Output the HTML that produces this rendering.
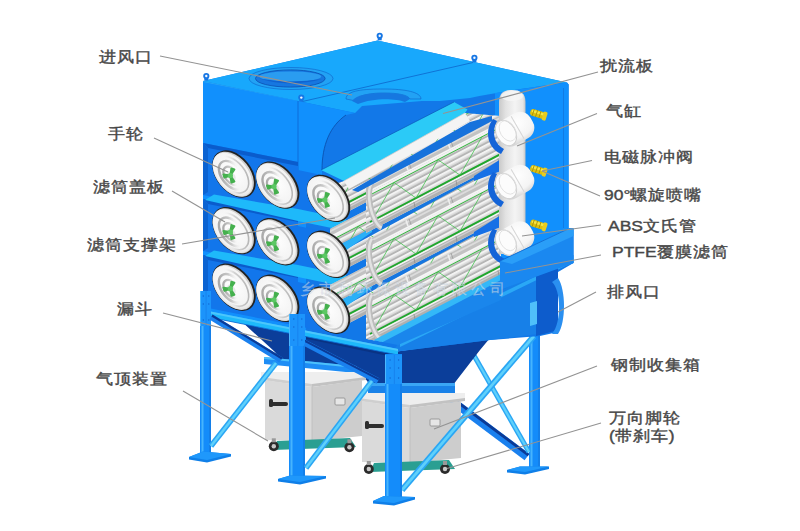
<!DOCTYPE html>
<html><head><meta charset="utf-8">
<style>
html,body{margin:0;padding:0;background:#fff;width:800px;height:531px;overflow:hidden}
#c{position:absolute;left:0;top:0;width:800px;height:531px}
.t{position:absolute;font-family:"Liberation Sans",sans-serif;font-size:17.5px;font-weight:400;color:#474747;-webkit-text-stroke:0.45px #474747;transform:scaleY(0.88);transform-origin:0 50%;white-space:nowrap;line-height:1}
</style></head><body>
<svg id="c" width="800" height="531" viewBox="0 0 800 531">
<polygon points="529.0,300.0 540.0,300.0 540.0,468.0 529.0,468.0" fill="#148cfa" />
<line x1="531.5" y1="302.0" x2="531.5" y2="467.0" stroke="#46b4fd" stroke-width="2" />
<line x1="539.0" y1="302.0" x2="539.0" y2="467.0" stroke="#1272d8" stroke-width="1" />
<polygon points="507.0,470.0 520.0,466.5 549.0,466.5 549.0,469.0 525.0,474.5 507.0,472.5" fill="#0f7fe8" />
<polygon points="507.0,470.0 520.0,466.5 549.0,466.5 525.0,472.0" fill="#1f98fb" />
<polygon points="401.6,368.2 524.6,460.2 529.4,453.8 406.4,361.8" fill="#1a80ee" />
<polygon points="404.6,364.2 527.6,456.2 529.3,454.0 406.3,362.0" fill="#0b3a96" />
<polygon points="469.8,353.2 526.8,453.2 531.2,450.8 474.2,350.8" fill="#2aa6f4" />
<polygon points="471.0,352.6 528.0,452.6 530.0,451.4 473.0,351.4" fill="#5fd0fb" />
<polygon points="240.0,320.0 298.0,332.0 393.0,352.0 490.0,338.0 480.0,350.0 453.0,385.0 370.0,385.0 356.0,366.0 282.0,362.0 275.0,352.0" fill="#0b3e9a" />
<polygon points="298.0,332.0 393.0,352.0 393.0,357.0 298.0,337.0" fill="#0a3384" />
<polygon points="264.0,357.0 356.0,366.0 356.0,373.0 264.0,364.0" fill="#1e8df5" />
<polygon points="264.0,357.0 356.0,366.0 356.0,368.0 264.0,359.0" fill="#4cc0fb" />
<polygon points="368.0,383.0 455.0,383.0 455.0,393.0 368.0,393.0" fill="#1a82e8" />
<polygon points="368.0,383.0 455.0,383.0 455.0,386.0 368.0,386.0" fill="#3aa6f5" />
<polygon points="358.0,393.0 465.0,393.0 465.0,400.0 410.0,407.0 358.0,400.0" fill="#eeeeee" />
<polygon points="358.0,398.0 410.0,405.0 410.0,408.0 358.0,401.0" fill="#cfcfcf" />
<polygon points="410.0,405.0 465.0,398.0 465.0,401.0 410.0,408.0" fill="#c2c2c2" />
<polygon points="362.0,401.0 410.0,408.0 410.0,463.0 362.0,462.0" fill="#dadada" />
<polygon points="410.0,408.0 461.0,401.0 461.0,458.0 410.0,463.0" fill="#cdcdcd" />
<line x1="410.0" y1="408.0" x2="410.0" y2="463.0" stroke="#bcbcbc" stroke-width="0.8" />
<rect x="366" y="424" width="18" height="4" rx="2" fill="#2e2e2e"/>
<rect x="365" y="421" width="4" height="8" rx="1.5" fill="#2e2e2e"/>
<rect x="430" y="419" width="10" height="7" rx="1" fill="#e6e6e6" stroke="#8a8a8a" stroke-width="0.8"/>
<polygon points="374.0,463.0 449.0,460.0 455.0,469.0 370.0,472.0" fill="#2a9f92" />
<circle cx="368.8" cy="469" r="5" fill="#2b2b2b"/><circle cx="368.8" cy="469" r="2.2" fill="#c8c8c8"/>
<rect x="366.8" y="461" width="4" height="4" fill="#9a9a9a"/>
<circle cx="445" cy="469" r="5" fill="#2b2b2b"/><circle cx="445" cy="469" r="2.2" fill="#c8c8c8"/>
<rect x="443" y="461" width="4" height="4" fill="#9a9a9a"/>
<polygon points="531.7,334.0 399.7,488.0 404.3,492.0 536.3,338.0" fill="#2aa6f4" />
<polygon points="533.0,335.1 401.0,489.1 403.0,490.9 535.0,336.9" fill="#5fd0fb" />
<polygon points="261.0,372.0 366.0,372.0 366.0,379.0 312.0,386.0 261.0,379.0" fill="#eeeeee" />
<polygon points="261.0,377.0 312.0,384.0 312.0,387.0 261.0,380.0" fill="#cfcfcf" />
<polygon points="312.0,384.0 366.0,377.0 366.0,380.0 312.0,387.0" fill="#c2c2c2" />
<polygon points="265.0,380.0 312.0,387.0 312.0,441.0 265.0,440.0" fill="#dadada" />
<polygon points="312.0,387.0 362.0,380.0 362.0,436.0 312.0,441.0" fill="#cdcdcd" />
<line x1="312.0" y1="387.0" x2="312.0" y2="441.0" stroke="#bcbcbc" stroke-width="0.8" />
<rect x="270" y="402" width="18" height="4" rx="2" fill="#2e2e2e"/>
<rect x="269" y="399" width="4" height="8" rx="1.5" fill="#2e2e2e"/>
<rect x="335" y="398" width="10" height="7" rx="1" fill="#e6e6e6" stroke="#8a8a8a" stroke-width="0.8"/>
<polygon points="277.0,441.0 350.0,438.0 356.0,447.0 273.0,450.0" fill="#2a9f92" />
<circle cx="273.8" cy="446.3" r="5" fill="#2b2b2b"/><circle cx="273.8" cy="446.3" r="2.2" fill="#c8c8c8"/>
<rect x="271.8" y="438.3" width="4" height="4" fill="#9a9a9a"/>
<circle cx="349.4" cy="447.3" r="5" fill="#2b2b2b"/><circle cx="349.4" cy="447.3" r="2.2" fill="#c8c8c8"/>
<rect x="347.4" y="439.3" width="4" height="4" fill="#9a9a9a"/>
<polygon points="203.0,81.0 377.5,40.5 567.0,82.6 568.6,84.5 568.6,228.0 573.5,228.0 573.5,263.0 558.0,272.0 558.0,332.0 540.0,336.0 490.0,340.0 393.0,352.0 298.0,332.0 203.0,313.0" fill="#1278e8" />
<polygon points="393.0,352.0 400.0,340.0 573.5,255.0 573.5,263.0 538.0,276.0 538.0,334.0 490.0,340.0" fill="#1780e8" />
<polygon points="400.0,343.0 573.5,258.0 573.5,262.0 400.0,347.0" fill="#2aa8f6" />
<polygon points="536.0,276.0 558.0,268.0 558.0,330.0 536.0,336.0" fill="#0d5ccc" />
<path d="M552,282 C561,290 562,322 552,334 L558,334 C566,322 566,290 558,278 Z" fill="#2a8ff0"/>
<polygon points="530.0,303.0 537.0,301.0 537.0,324.0 530.0,326.0" fill="#4fc0fa" />
<path d="M203,81 L377.5,40.5 L567,82.6 C540,86 500,92 470,98 L440,101 L422,101 L362,106 L355,113 L298,101 Z" fill="#18a8fc"/>
<polygon points="203.0,81.0 298.0,101.0 298.0,103.0 203.0,83.0" fill="#28a8f6" />
<line x1="298.0" y1="102.5" x2="473.0" y2="62.5" stroke="#0b5cc4" stroke-width="0.7" />
<ellipse cx="291" cy="78.5" rx="42" ry="11" fill="#22a2f4" stroke="#0d62c8" stroke-width="0.6"/>
<ellipse cx="290.3" cy="78.5" rx="34.8" ry="8.6" fill="#1677e0" stroke="#0a4fb0" stroke-width="0.8"/>
<ellipse cx="290.3" cy="76.6" rx="31" ry="5.2" fill="#2a9cf0"/>
<path d="M259,78.5 Q290,84 322,79 Q290,88 259,78.5 Z" fill="#0f62d0"/>
<path d="M346,99 C346,90 365,89 384,89 C405,89 421,92 421,99 L410,99 C408,95 398,93 384,93 C368,93 357,96 356,101 Z" fill="#22a2f4" stroke="#0d62c8" stroke-width="0.6"/>
<path d="M352,101 C356,95 368,93 384,93 C398,93 408,95 410,99 L405,102 C395,98 372,98 358,104 Z" fill="#1677e0"/>
<rect x="204.3" y="76" width="4" height="4.5" fill="#1676e4"/>
<circle cx="206.3" cy="76" r="3.1" fill="#1676e4"/>
<circle cx="206.3" cy="76" r="1.2" fill="#f4f8ff"/>
<rect x="299.3" y="97.6" width="4" height="4.5" fill="#1676e4"/>
<circle cx="301.3" cy="97.6" r="3.1" fill="#1676e4"/>
<circle cx="301.3" cy="97.6" r="1.2" fill="#f4f8ff"/>
<rect x="377.7" y="35.8" width="4" height="4.5" fill="#1676e4"/>
<circle cx="379.7" cy="35.8" r="3.1" fill="#1676e4"/>
<circle cx="379.7" cy="35.8" r="1.2" fill="#f4f8ff"/>
<rect x="472.4" y="57.8" width="4" height="4.5" fill="#1676e4"/>
<circle cx="474.4" cy="57.8" r="3.1" fill="#1676e4"/>
<circle cx="474.4" cy="57.8" r="1.2" fill="#f4f8ff"/>
<polygon points="495.0,93.0 567.0,82.6 568.6,84.5 568.6,229.0 500.0,261.0 495.0,263.0" fill="#1190fd" />
<line x1="563.5" y1="88.0" x2="563.5" y2="228.0" stroke="#1272d8" stroke-width="0.7" />
<polygon points="203.0,82.0 298.0,101.0 298.0,335.0 203.0,316.0" fill="#1190fd" />
<path d="M298,101 L355,113 L346,115 C330,126 322,145 322,168 L322,178 L298,178 Z" fill="#1190fd"/>
<path d="M346,115 C330,126 322,145 322,170" fill="none" stroke="#0a4ca8" stroke-width="0.8"/>
<line x1="298.0" y1="101.0" x2="298.0" y2="332.0" stroke="#0d5fc8" stroke-width="0.7" />
<polygon points="298.0,170.0 306.0,172.0 306.0,340.0 298.0,338.0" fill="#1190fd" />
<polygon points="203.0,143.0 298.0,162.0 298.0,214.0 203.0,195.0" fill="#1276eb" />
<polygon points="203.0,143.0 298.0,162.0 298.0,166.0 208.0,148.0" fill="#0a5ccc" />
<polygon points="203.0,143.0 208.0,148.0 208.0,192.0 203.0,195.0" fill="#0b63d2" />
<polygon points="203.0,199.0 298.0,218.0 298.0,270.0 203.0,251.0" fill="#1276eb" />
<polygon points="203.0,199.0 298.0,218.0 298.0,222.0 208.0,204.0" fill="#0a5ccc" />
<polygon points="203.0,199.0 208.0,204.0 208.0,248.0 203.0,251.0" fill="#0b63d2" />
<polygon points="203.0,255.0 298.0,274.0 298.0,326.0 203.0,307.0" fill="#1276eb" />
<polygon points="203.0,255.0 298.0,274.0 298.0,278.0 208.0,260.0" fill="#0a5ccc" />
<polygon points="203.0,255.0 208.0,260.0 208.0,304.0 203.0,307.0" fill="#0b63d2" />
<polygon points="298.0,170.0 345.0,180.0 345.0,224.0 298.0,214.0" fill="#1276eb" />
<polygon points="298.0,226.0 345.0,236.0 345.0,280.0 298.0,270.0" fill="#1276eb" />
<polygon points="298.0,282.0 345.0,292.0 345.0,336.0 298.0,326.0" fill="#1276eb" />
<polygon points="205.0,200.0 214.0,194.5 298.0,209.0 346.0,219.0 346.0,231.0 298.0,221.0" fill="#1eb9fa" />
<polygon points="205.0,256.0 214.0,250.5 298.0,265.0 346.0,275.0 346.0,287.0 298.0,277.0" fill="#1eb9fa" />
<polygon points="203.0,310.0 298.0,329.0 398.0,349.0 398.0,355.0 298.0,335.0 203.0,316.0" fill="#1eb9fa" />
<polygon points="203.0,310.0 298.0,329.0 398.0,349.0 398.0,351.0 298.0,331.0 203.0,312.0" fill="#4cc6fc" />
<line x1="203.0" y1="316.0" x2="398.0" y2="355.0" stroke="#0d6ad6" stroke-width="0.8" />
<clipPath id="tclip"><polygon points="300,326 300,195 344,181 465,113 501,116 501,300 398,345"/></clipPath>
<defs>
<pattern id="pleat" patternUnits="userSpaceOnUse" width="40" height="5.5" patternTransform="rotate(-27.47)">
<rect width="40" height="5.5" fill="#cfcfcf"/><rect y="0" width="40" height="2.4" fill="#f3f3f3"/><rect y="2.4" width="40" height="1.0" fill="#dedede"/><rect y="4.2" width="40" height="0.9" fill="#9c9c9c"/>
</pattern>
</defs>
<g clip-path="url(#tclip)">
<polygon points="330.0,284.9 501.0,196.0 501.0,244.0 330.0,332.9" fill="url(#pleat)" />
<polygon points="330.0,284.9 501.0,196.0 501.0,203.0 330.0,291.9" fill="#c2c2c2" />
<polygon points="330.0,286.4 501.0,197.5 501.0,199.5 330.0,288.4" fill="#dcdcdc" />
<polygon points="330.0,291.9 501.0,203.0 501.0,205.0 330.0,293.9" fill="#f6f6f6" />
<polygon points="330.0,326.9 501.0,238.0 501.0,244.0 330.0,332.9" fill="#b0b0b0" />
<polygon points="330.0,327.9 501.0,239.0 501.0,240.5 330.0,329.4" fill="#cfcfcf" />
<line x1="370.0" y1="264.1" x2="372.0" y2="270.1" stroke="#eeeeee" stroke-width="1.6" />
<line x1="373.0" y1="262.6" x2="375.0" y2="268.5" stroke="#9a9a9a" stroke-width="0.8" />
<line x1="378.0" y1="302.0" x2="379.0" y2="307.5" stroke="#8e8e8e" stroke-width="0.8" />
<line x1="412.0" y1="242.3" x2="414.0" y2="248.3" stroke="#eeeeee" stroke-width="1.6" />
<line x1="415.0" y1="240.7" x2="417.0" y2="246.7" stroke="#9a9a9a" stroke-width="0.8" />
<line x1="420.0" y1="280.1" x2="421.0" y2="285.6" stroke="#8e8e8e" stroke-width="0.8" />
<line x1="454.0" y1="220.5" x2="456.0" y2="226.4" stroke="#eeeeee" stroke-width="1.6" />
<line x1="457.0" y1="218.9" x2="459.0" y2="224.9" stroke="#9a9a9a" stroke-width="0.8" />
<line x1="462.0" y1="258.3" x2="463.0" y2="263.8" stroke="#8e8e8e" stroke-width="0.8" />
<line x1="334.0" y1="321.9" x2="501.0" y2="235.0" stroke="#1fa82c" stroke-width="1.8" />
<line x1="334.0" y1="294.9" x2="501.0" y2="208.0" stroke="#35bb40" stroke-width="1.0" />
<polyline points="336.0,320.8 358.0,282.4 380.0,297.9 402.0,259.5 424.0,275.1 446.0,236.6 468.0,252.2 490.0,213.7" fill="none" stroke="#3cc048" stroke-width="0.9" opacity="0.85"/>
<polygon points="366.0,297.1 501.0,226.9 501.0,274.9 366.0,345.1" fill="url(#pleat)" />
<polygon points="366.0,297.1 501.0,226.9 501.0,233.9 366.0,304.1" fill="#c2c2c2" />
<polygon points="366.0,298.6 501.0,228.4 501.0,230.4 366.0,300.6" fill="#dcdcdc" />
<polygon points="366.0,304.1 501.0,233.9 501.0,235.9 366.0,306.1" fill="#f6f6f6" />
<polygon points="366.0,339.1 501.0,268.9 501.0,274.9 366.0,345.1" fill="#b0b0b0" />
<polygon points="366.0,340.1 501.0,269.9 501.0,271.4 366.0,341.6" fill="#cfcfcf" />
<line x1="406.0" y1="276.3" x2="408.0" y2="282.3" stroke="#eeeeee" stroke-width="1.6" />
<line x1="409.0" y1="274.7" x2="411.0" y2="280.7" stroke="#9a9a9a" stroke-width="0.8" />
<line x1="414.0" y1="314.1" x2="415.0" y2="319.6" stroke="#8e8e8e" stroke-width="0.8" />
<line x1="448.0" y1="254.5" x2="450.0" y2="260.4" stroke="#eeeeee" stroke-width="1.6" />
<line x1="451.0" y1="252.9" x2="453.0" y2="258.9" stroke="#9a9a9a" stroke-width="0.8" />
<line x1="456.0" y1="292.3" x2="457.0" y2="297.8" stroke="#8e8e8e" stroke-width="0.8" />
<line x1="490.0" y1="232.6" x2="492.0" y2="238.6" stroke="#eeeeee" stroke-width="1.6" />
<line x1="493.0" y1="231.1" x2="495.0" y2="237.0" stroke="#9a9a9a" stroke-width="0.8" />
<line x1="498.0" y1="270.5" x2="499.0" y2="275.9" stroke="#8e8e8e" stroke-width="0.8" />
<line x1="370.0" y1="334.0" x2="501.0" y2="265.9" stroke="#1fa82c" stroke-width="1.8" />
<line x1="370.0" y1="307.0" x2="501.0" y2="238.9" stroke="#35bb40" stroke-width="1.0" />
<polyline points="372.0,333.0 394.0,294.5 416.0,310.1 438.0,271.7 460.0,287.2 482.0,248.8" fill="none" stroke="#3cc048" stroke-width="0.9" opacity="0.85"/>
<g transform="rotate(-12 371 318.5)"><path d="M377,295.5 A9.5,24 0 0 0 377,341.5" fill="none" stroke="#bdbdbd" stroke-width="6"/><path d="M377,295.5 A9.5,24 0 0 0 377,341.5" fill="none" stroke="#e2e2e2" stroke-width="2.5"/></g>
<polygon points="335.0,303.2 501.0,216.9 501.0,220.9 335.0,311.2" fill="#1676e0" />
<polygon points="335.0,303.2 372.0,284.0 372.0,288.0 335.0,314.2" fill="#2ab0f7" />
<polygon points="330.0,228.9 501.0,140.0 501.0,188.0 330.0,276.9" fill="url(#pleat)" />
<polygon points="330.0,228.9 501.0,140.0 501.0,147.0 330.0,235.9" fill="#c2c2c2" />
<polygon points="330.0,230.4 501.0,141.5 501.0,143.5 330.0,232.4" fill="#dcdcdc" />
<polygon points="330.0,235.9 501.0,147.0 501.0,149.0 330.0,237.9" fill="#f6f6f6" />
<polygon points="330.0,270.9 501.0,182.0 501.0,188.0 330.0,276.9" fill="#b0b0b0" />
<polygon points="330.0,271.9 501.0,183.0 501.0,184.5 330.0,273.4" fill="#cfcfcf" />
<line x1="370.0" y1="208.1" x2="372.0" y2="214.1" stroke="#eeeeee" stroke-width="1.6" />
<line x1="373.0" y1="206.6" x2="375.0" y2="212.5" stroke="#9a9a9a" stroke-width="0.8" />
<line x1="378.0" y1="246.0" x2="379.0" y2="251.5" stroke="#8e8e8e" stroke-width="0.8" />
<line x1="412.0" y1="186.3" x2="414.0" y2="192.3" stroke="#eeeeee" stroke-width="1.6" />
<line x1="415.0" y1="184.7" x2="417.0" y2="190.7" stroke="#9a9a9a" stroke-width="0.8" />
<line x1="420.0" y1="224.1" x2="421.0" y2="229.6" stroke="#8e8e8e" stroke-width="0.8" />
<line x1="454.0" y1="164.5" x2="456.0" y2="170.4" stroke="#eeeeee" stroke-width="1.6" />
<line x1="457.0" y1="162.9" x2="459.0" y2="168.9" stroke="#9a9a9a" stroke-width="0.8" />
<line x1="462.0" y1="202.3" x2="463.0" y2="207.8" stroke="#8e8e8e" stroke-width="0.8" />
<line x1="334.0" y1="265.9" x2="501.0" y2="179.0" stroke="#1fa82c" stroke-width="1.8" />
<line x1="334.0" y1="238.9" x2="501.0" y2="152.0" stroke="#35bb40" stroke-width="1.0" />
<polyline points="336.0,264.8 358.0,226.4 380.0,241.9 402.0,203.5 424.0,219.1 446.0,180.6 468.0,196.2 490.0,157.7" fill="none" stroke="#3cc048" stroke-width="0.9" opacity="0.85"/>
<polygon points="366.0,241.1 501.0,170.9 501.0,218.9 366.0,289.1" fill="url(#pleat)" />
<polygon points="366.0,241.1 501.0,170.9 501.0,177.9 366.0,248.1" fill="#c2c2c2" />
<polygon points="366.0,242.6 501.0,172.4 501.0,174.4 366.0,244.6" fill="#dcdcdc" />
<polygon points="366.0,248.1 501.0,177.9 501.0,179.9 366.0,250.1" fill="#f6f6f6" />
<polygon points="366.0,283.1 501.0,212.9 501.0,218.9 366.0,289.1" fill="#b0b0b0" />
<polygon points="366.0,284.1 501.0,213.9 501.0,215.4 366.0,285.6" fill="#cfcfcf" />
<line x1="406.0" y1="220.3" x2="408.0" y2="226.3" stroke="#eeeeee" stroke-width="1.6" />
<line x1="409.0" y1="218.7" x2="411.0" y2="224.7" stroke="#9a9a9a" stroke-width="0.8" />
<line x1="414.0" y1="258.1" x2="415.0" y2="263.6" stroke="#8e8e8e" stroke-width="0.8" />
<line x1="448.0" y1="198.5" x2="450.0" y2="204.4" stroke="#eeeeee" stroke-width="1.6" />
<line x1="451.0" y1="196.9" x2="453.0" y2="202.9" stroke="#9a9a9a" stroke-width="0.8" />
<line x1="456.0" y1="236.3" x2="457.0" y2="241.8" stroke="#8e8e8e" stroke-width="0.8" />
<line x1="490.0" y1="176.6" x2="492.0" y2="182.6" stroke="#eeeeee" stroke-width="1.6" />
<line x1="493.0" y1="175.1" x2="495.0" y2="181.0" stroke="#9a9a9a" stroke-width="0.8" />
<line x1="498.0" y1="214.5" x2="499.0" y2="219.9" stroke="#8e8e8e" stroke-width="0.8" />
<line x1="370.0" y1="278.0" x2="501.0" y2="209.9" stroke="#1fa82c" stroke-width="1.8" />
<line x1="370.0" y1="251.0" x2="501.0" y2="182.9" stroke="#35bb40" stroke-width="1.0" />
<polyline points="372.0,277.0 394.0,238.5 416.0,254.1 438.0,215.7 460.0,231.2 482.0,192.8" fill="none" stroke="#3cc048" stroke-width="0.9" opacity="0.85"/>
<g transform="rotate(-12 371 262.5)"><path d="M377,239.5 A9.5,24 0 0 0 377,285.5" fill="none" stroke="#bdbdbd" stroke-width="6"/><path d="M377,239.5 A9.5,24 0 0 0 377,285.5" fill="none" stroke="#e2e2e2" stroke-width="2.5"/></g>
<polygon points="335.0,247.2 501.0,160.9 501.0,164.9 335.0,255.2" fill="#1676e0" />
<polygon points="335.0,247.2 372.0,228.0 372.0,232.0 335.0,258.2" fill="#2ab0f7" />
<polygon points="330.0,172.9 501.0,84.0 501.0,132.0 330.0,220.9" fill="url(#pleat)" />
<polygon points="330.0,172.9 501.0,84.0 501.0,91.0 330.0,179.9" fill="#c2c2c2" />
<polygon points="330.0,174.4 501.0,85.5 501.0,87.5 330.0,176.4" fill="#dcdcdc" />
<polygon points="330.0,179.9 501.0,91.0 501.0,93.0 330.0,181.9" fill="#f6f6f6" />
<polygon points="330.0,214.9 501.0,126.0 501.0,132.0 330.0,220.9" fill="#b0b0b0" />
<polygon points="330.0,215.9 501.0,127.0 501.0,128.5 330.0,217.4" fill="#cfcfcf" />
<line x1="370.0" y1="152.1" x2="372.0" y2="158.1" stroke="#eeeeee" stroke-width="1.6" />
<line x1="373.0" y1="150.6" x2="375.0" y2="156.5" stroke="#9a9a9a" stroke-width="0.8" />
<line x1="378.0" y1="190.0" x2="379.0" y2="195.5" stroke="#8e8e8e" stroke-width="0.8" />
<line x1="412.0" y1="130.3" x2="414.0" y2="136.3" stroke="#eeeeee" stroke-width="1.6" />
<line x1="415.0" y1="128.7" x2="417.0" y2="134.7" stroke="#9a9a9a" stroke-width="0.8" />
<line x1="420.0" y1="168.1" x2="421.0" y2="173.6" stroke="#8e8e8e" stroke-width="0.8" />
<line x1="454.0" y1="108.5" x2="456.0" y2="114.4" stroke="#eeeeee" stroke-width="1.6" />
<line x1="457.0" y1="106.9" x2="459.0" y2="112.9" stroke="#9a9a9a" stroke-width="0.8" />
<line x1="462.0" y1="146.3" x2="463.0" y2="151.8" stroke="#8e8e8e" stroke-width="0.8" />
<line x1="334.0" y1="209.9" x2="501.0" y2="123.0" stroke="#1fa82c" stroke-width="1.8" />
<line x1="334.0" y1="182.9" x2="501.0" y2="96.0" stroke="#35bb40" stroke-width="1.0" />
<polyline points="336.0,208.8 358.0,170.4 380.0,185.9 402.0,147.5 424.0,163.1 446.0,124.6 468.0,140.2 490.0,101.7" fill="none" stroke="#3cc048" stroke-width="0.9" opacity="0.85"/>
<polygon points="366.0,185.1 501.0,114.9 501.0,162.9 366.0,233.1" fill="url(#pleat)" />
<polygon points="366.0,185.1 501.0,114.9 501.0,121.9 366.0,192.1" fill="#c2c2c2" />
<polygon points="366.0,186.6 501.0,116.4 501.0,118.4 366.0,188.6" fill="#dcdcdc" />
<polygon points="366.0,192.1 501.0,121.9 501.0,123.9 366.0,194.1" fill="#f6f6f6" />
<polygon points="366.0,227.1 501.0,156.9 501.0,162.9 366.0,233.1" fill="#b0b0b0" />
<polygon points="366.0,228.1 501.0,157.9 501.0,159.4 366.0,229.6" fill="#cfcfcf" />
<line x1="406.0" y1="164.3" x2="408.0" y2="170.3" stroke="#eeeeee" stroke-width="1.6" />
<line x1="409.0" y1="162.7" x2="411.0" y2="168.7" stroke="#9a9a9a" stroke-width="0.8" />
<line x1="414.0" y1="202.1" x2="415.0" y2="207.6" stroke="#8e8e8e" stroke-width="0.8" />
<line x1="448.0" y1="142.5" x2="450.0" y2="148.4" stroke="#eeeeee" stroke-width="1.6" />
<line x1="451.0" y1="140.9" x2="453.0" y2="146.9" stroke="#9a9a9a" stroke-width="0.8" />
<line x1="456.0" y1="180.3" x2="457.0" y2="185.8" stroke="#8e8e8e" stroke-width="0.8" />
<line x1="490.0" y1="120.6" x2="492.0" y2="126.6" stroke="#eeeeee" stroke-width="1.6" />
<line x1="493.0" y1="119.1" x2="495.0" y2="125.0" stroke="#9a9a9a" stroke-width="0.8" />
<line x1="498.0" y1="158.5" x2="499.0" y2="163.9" stroke="#8e8e8e" stroke-width="0.8" />
<line x1="370.0" y1="222.0" x2="501.0" y2="153.9" stroke="#1fa82c" stroke-width="1.8" />
<line x1="370.0" y1="195.0" x2="501.0" y2="126.9" stroke="#35bb40" stroke-width="1.0" />
<polyline points="372.0,221.0 394.0,182.5 416.0,198.1 438.0,159.7 460.0,175.2 482.0,136.8" fill="none" stroke="#3cc048" stroke-width="0.9" opacity="0.85"/>
<g transform="rotate(-12 371 206.5)"><path d="M377,183.5 A9.5,24 0 0 0 377,229.5" fill="none" stroke="#bdbdbd" stroke-width="6"/><path d="M377,183.5 A9.5,24 0 0 0 377,229.5" fill="none" stroke="#e2e2e2" stroke-width="2.5"/></g>
<polygon points="474.0,175.9 501.0,158.9 501.0,170.9 474.0,180.9" fill="#1670e6" />
<polygon points="474.0,231.9 501.0,214.9 501.0,226.9 474.0,236.9" fill="#1670e6" />
<polygon points="300.0,379.4 501.0,274.9 501.0,304.9 300.0,409.4" fill="#1a86ec" />
<polygon points="330.0,362.8 501.0,273.9 501.0,279.9 330.0,369.8" fill="#33b8f8" />
</g>
<polygon points="321.0,170.0 454.0,102.0 467.5,109.6 465.0,113.0 344.0,181.0" fill="#2bcaf7" />
<polygon points="344.0,181.0 465.0,113.0 470.0,121.0 349.0,189.0" fill="#f4f4f4" />
<line x1="344.0" y1="181.0" x2="465.0" y2="113.0" stroke="#d0d0d0" stroke-width="0.8" />
<line x1="321.0" y1="170.0" x2="454.0" y2="102.0" stroke="#0a55b8" stroke-width="0.7" />
<polygon points="352.0,190.0 470.0,122.0 492.0,116.0 492.0,121.0 358.0,192.0" fill="#1672dc" />
<defs><linearGradient id="ringg" x1="0" y1="0" x2="1" y2="1">
<stop offset="0" stop-color="#9c9c9c"/><stop offset="0.45" stop-color="#c8c8c8"/><stop offset="0.75" stop-color="#ffffff" stop-opacity="0"/></linearGradient>
<linearGradient id="ringh" x1="1" y1="1" x2="0" y2="0">
<stop offset="0" stop-color="#a8a8a8"/><stop offset="0.4" stop-color="#d0d0d0"/><stop offset="0.7" stop-color="#ffffff" stop-opacity="0"/></linearGradient>
<radialGradient id="discg" cx="0.55" cy="0.45" r="0.6"><stop offset="0" stop-color="#ffffff"/><stop offset="0.8" stop-color="#f3f3f3"/><stop offset="1" stop-color="#dcdcdc"/></radialGradient></defs>
<g transform="rotate(-38.6 233 174.3)"><ellipse cx="234.0" cy="174.70000000000002" rx="17.8" ry="26.8" fill="#232323"/><ellipse cx="233.3" cy="174.4" rx="16.6" ry="25.6" fill="#cfcfcf"/><ellipse cx="232.5" cy="174.10000000000002" rx="15.6" ry="25.0" fill="url(#discg)"/><ellipse cx="232.0" cy="174.10000000000002" rx="13" ry="21" fill="none" stroke="url(#ringh)" stroke-width="1.6"/><ellipse cx="231.5" cy="174.3" rx="10" ry="16.5" fill="none" stroke="url(#ringg)" stroke-width="2.4"/><ellipse cx="231.0" cy="174.60000000000002" rx="6.5" ry="10.5" fill="none" stroke="url(#ringg)" stroke-width="2.2"/><ellipse cx="230.5" cy="174.8" rx="3.5" ry="5.5" fill="#e8e8e8"/></g>
<path d="M230.4,175.5 L223.4,174.5 L224.4,177.5 Z M230.4,175.5 L231.4,168.5 L234.4,169.5 Z M230.4,175.5 L234.4,181.5 L231.4,182.5 Z" fill="#45b04e" stroke="#45b04e" stroke-width="2" stroke-linejoin="round"/>
<circle cx="230.4" cy="175.5" r="2.6" fill="#5cc864"/>
<g transform="rotate(-38.6 276.6 185.4)"><ellipse cx="277.6" cy="185.8" rx="17.8" ry="26.8" fill="#232323"/><ellipse cx="276.90000000000003" cy="185.5" rx="16.6" ry="25.6" fill="#cfcfcf"/><ellipse cx="276.1" cy="185.20000000000002" rx="15.6" ry="25.0" fill="url(#discg)"/><ellipse cx="275.6" cy="185.20000000000002" rx="13" ry="21" fill="none" stroke="url(#ringh)" stroke-width="1.6"/><ellipse cx="275.1" cy="185.4" rx="10" ry="16.5" fill="none" stroke="url(#ringg)" stroke-width="2.4"/><ellipse cx="274.6" cy="185.70000000000002" rx="6.5" ry="10.5" fill="none" stroke="url(#ringg)" stroke-width="2.2"/><ellipse cx="274.1" cy="185.9" rx="3.5" ry="5.5" fill="#e8e8e8"/></g>
<path d="M274.0,186.6 L267.0,185.6 L268.0,188.6 Z M274.0,186.6 L275.0,179.6 L278.0,180.6 Z M274.0,186.6 L278.0,192.6 L275.0,193.6 Z" fill="#45b04e" stroke="#45b04e" stroke-width="2" stroke-linejoin="round"/>
<circle cx="274.0" cy="186.6" r="2.6" fill="#5cc864"/>
<g transform="rotate(-38.6 327.5 198.7)"><ellipse cx="328.5" cy="199.1" rx="17.8" ry="26.8" fill="#232323"/><ellipse cx="327.8" cy="198.79999999999998" rx="16.6" ry="25.6" fill="#cfcfcf"/><ellipse cx="327.0" cy="198.5" rx="15.6" ry="25.0" fill="url(#discg)"/><ellipse cx="326.5" cy="198.5" rx="13" ry="21" fill="none" stroke="url(#ringh)" stroke-width="1.6"/><ellipse cx="326.0" cy="198.7" rx="10" ry="16.5" fill="none" stroke="url(#ringg)" stroke-width="2.4"/><ellipse cx="325.5" cy="199.0" rx="6.5" ry="10.5" fill="none" stroke="url(#ringg)" stroke-width="2.2"/><ellipse cx="325.0" cy="199.2" rx="3.5" ry="5.5" fill="#e8e8e8"/></g>
<path d="M324.9,199.89999999999998 L317.9,198.89999999999998 L318.9,201.89999999999998 Z M324.9,199.89999999999998 L325.9,192.89999999999998 L328.9,193.89999999999998 Z M324.9,199.89999999999998 L328.9,205.89999999999998 L325.9,206.89999999999998 Z" fill="#45b04e" stroke="#45b04e" stroke-width="2" stroke-linejoin="round"/>
<circle cx="324.9" cy="199.89999999999998" r="2.6" fill="#5cc864"/>
<g transform="rotate(-38.6 233 230.9)"><ellipse cx="234.0" cy="231.3" rx="17.8" ry="26.8" fill="#232323"/><ellipse cx="233.3" cy="231.0" rx="16.6" ry="25.6" fill="#cfcfcf"/><ellipse cx="232.5" cy="230.70000000000002" rx="15.6" ry="25.0" fill="url(#discg)"/><ellipse cx="232.0" cy="230.70000000000002" rx="13" ry="21" fill="none" stroke="url(#ringh)" stroke-width="1.6"/><ellipse cx="231.5" cy="230.9" rx="10" ry="16.5" fill="none" stroke="url(#ringg)" stroke-width="2.4"/><ellipse cx="231.0" cy="231.20000000000002" rx="6.5" ry="10.5" fill="none" stroke="url(#ringg)" stroke-width="2.2"/><ellipse cx="230.5" cy="231.4" rx="3.5" ry="5.5" fill="#e8e8e8"/></g>
<path d="M230.4,232.1 L223.4,231.1 L224.4,234.1 Z M230.4,232.1 L231.4,225.1 L234.4,226.1 Z M230.4,232.1 L234.4,238.1 L231.4,239.1 Z" fill="#45b04e" stroke="#45b04e" stroke-width="2" stroke-linejoin="round"/>
<circle cx="230.4" cy="232.1" r="2.6" fill="#5cc864"/>
<g transform="rotate(-38.6 276.6 242.0)"><ellipse cx="277.6" cy="242.4" rx="17.8" ry="26.8" fill="#232323"/><ellipse cx="276.90000000000003" cy="242.1" rx="16.6" ry="25.6" fill="#cfcfcf"/><ellipse cx="276.1" cy="241.8" rx="15.6" ry="25.0" fill="url(#discg)"/><ellipse cx="275.6" cy="241.8" rx="13" ry="21" fill="none" stroke="url(#ringh)" stroke-width="1.6"/><ellipse cx="275.1" cy="242.0" rx="10" ry="16.5" fill="none" stroke="url(#ringg)" stroke-width="2.4"/><ellipse cx="274.6" cy="242.3" rx="6.5" ry="10.5" fill="none" stroke="url(#ringg)" stroke-width="2.2"/><ellipse cx="274.1" cy="242.5" rx="3.5" ry="5.5" fill="#e8e8e8"/></g>
<path d="M274.0,243.2 L267.0,242.2 L268.0,245.2 Z M274.0,243.2 L275.0,236.2 L278.0,237.2 Z M274.0,243.2 L278.0,249.2 L275.0,250.2 Z" fill="#45b04e" stroke="#45b04e" stroke-width="2" stroke-linejoin="round"/>
<circle cx="274.0" cy="243.2" r="2.6" fill="#5cc864"/>
<g transform="rotate(-38.6 327.5 254.6)"><ellipse cx="328.5" cy="255.0" rx="17.8" ry="26.8" fill="#232323"/><ellipse cx="327.8" cy="254.7" rx="16.6" ry="25.6" fill="#cfcfcf"/><ellipse cx="327.0" cy="254.4" rx="15.6" ry="25.0" fill="url(#discg)"/><ellipse cx="326.5" cy="254.4" rx="13" ry="21" fill="none" stroke="url(#ringh)" stroke-width="1.6"/><ellipse cx="326.0" cy="254.6" rx="10" ry="16.5" fill="none" stroke="url(#ringg)" stroke-width="2.4"/><ellipse cx="325.5" cy="254.9" rx="6.5" ry="10.5" fill="none" stroke="url(#ringg)" stroke-width="2.2"/><ellipse cx="325.0" cy="255.1" rx="3.5" ry="5.5" fill="#e8e8e8"/></g>
<path d="M324.9,255.79999999999998 L317.9,254.79999999999998 L318.9,257.79999999999995 Z M324.9,255.79999999999998 L325.9,248.79999999999998 L328.9,249.79999999999998 Z M324.9,255.79999999999998 L328.9,261.79999999999995 L325.9,262.79999999999995 Z" fill="#45b04e" stroke="#45b04e" stroke-width="2" stroke-linejoin="round"/>
<circle cx="324.9" cy="255.79999999999998" r="2.6" fill="#5cc864"/>
<g transform="rotate(-38.6 233 287.5)"><ellipse cx="234.0" cy="287.9" rx="17.8" ry="26.8" fill="#232323"/><ellipse cx="233.3" cy="287.6" rx="16.6" ry="25.6" fill="#cfcfcf"/><ellipse cx="232.5" cy="287.3" rx="15.6" ry="25.0" fill="url(#discg)"/><ellipse cx="232.0" cy="287.3" rx="13" ry="21" fill="none" stroke="url(#ringh)" stroke-width="1.6"/><ellipse cx="231.5" cy="287.5" rx="10" ry="16.5" fill="none" stroke="url(#ringg)" stroke-width="2.4"/><ellipse cx="231.0" cy="287.8" rx="6.5" ry="10.5" fill="none" stroke="url(#ringg)" stroke-width="2.2"/><ellipse cx="230.5" cy="288.0" rx="3.5" ry="5.5" fill="#e8e8e8"/></g>
<path d="M230.4,288.7 L223.4,287.7 L224.4,290.7 Z M230.4,288.7 L231.4,281.7 L234.4,282.7 Z M230.4,288.7 L234.4,294.7 L231.4,295.7 Z" fill="#45b04e" stroke="#45b04e" stroke-width="2" stroke-linejoin="round"/>
<circle cx="230.4" cy="288.7" r="2.6" fill="#5cc864"/>
<g transform="rotate(-38.6 276.6 298.6)"><ellipse cx="277.6" cy="299.0" rx="17.8" ry="26.8" fill="#232323"/><ellipse cx="276.90000000000003" cy="298.70000000000005" rx="16.6" ry="25.6" fill="#cfcfcf"/><ellipse cx="276.1" cy="298.40000000000003" rx="15.6" ry="25.0" fill="url(#discg)"/><ellipse cx="275.6" cy="298.40000000000003" rx="13" ry="21" fill="none" stroke="url(#ringh)" stroke-width="1.6"/><ellipse cx="275.1" cy="298.6" rx="10" ry="16.5" fill="none" stroke="url(#ringg)" stroke-width="2.4"/><ellipse cx="274.6" cy="298.90000000000003" rx="6.5" ry="10.5" fill="none" stroke="url(#ringg)" stroke-width="2.2"/><ellipse cx="274.1" cy="299.1" rx="3.5" ry="5.5" fill="#e8e8e8"/></g>
<path d="M274.0,299.8 L267.0,298.8 L268.0,301.8 Z M274.0,299.8 L275.0,292.8 L278.0,293.8 Z M274.0,299.8 L278.0,305.8 L275.0,306.8 Z" fill="#45b04e" stroke="#45b04e" stroke-width="2" stroke-linejoin="round"/>
<circle cx="274.0" cy="299.8" r="2.6" fill="#5cc864"/>
<g transform="rotate(-38.6 327.5 310.5)"><ellipse cx="328.5" cy="310.9" rx="17.8" ry="26.8" fill="#232323"/><ellipse cx="327.8" cy="310.6" rx="16.6" ry="25.6" fill="#cfcfcf"/><ellipse cx="327.0" cy="310.3" rx="15.6" ry="25.0" fill="url(#discg)"/><ellipse cx="326.5" cy="310.3" rx="13" ry="21" fill="none" stroke="url(#ringh)" stroke-width="1.6"/><ellipse cx="326.0" cy="310.5" rx="10" ry="16.5" fill="none" stroke="url(#ringg)" stroke-width="2.4"/><ellipse cx="325.5" cy="310.8" rx="6.5" ry="10.5" fill="none" stroke="url(#ringg)" stroke-width="2.2"/><ellipse cx="325.0" cy="311.0" rx="3.5" ry="5.5" fill="#e8e8e8"/></g>
<path d="M324.9,311.7 L317.9,310.7 L318.9,313.7 Z M324.9,311.7 L325.9,304.7 L328.9,305.7 Z M324.9,311.7 L328.9,317.7 L325.9,318.7 Z" fill="#45b04e" stroke="#45b04e" stroke-width="2" stroke-linejoin="round"/>
<circle cx="324.9" cy="311.7" r="2.6" fill="#5cc864"/>
<defs><linearGradient id="hdr" x1="0" x2="1" y1="0" y2="0">
<stop offset="0" stop-color="#c9c9c9"/><stop offset="0.25" stop-color="#e2e2e2"/><stop offset="0.6" stop-color="#f4f4f4"/><stop offset="0.9" stop-color="#e6e6e6"/><stop offset="1" stop-color="#c4c4c4"/></linearGradient>
<radialGradient id="elb" cx="0.6" cy="0.35" r="0.7"><stop offset="0" stop-color="#ffffff"/><stop offset="0.7" stop-color="#f4f4f4"/><stop offset="1" stop-color="#d6d6d6"/></radialGradient></defs>
<path d="M499,102 C499,93 504,90 512,90 C520,90 525.5,93 525.5,102 L525.5,254 L499,254 Z" fill="url(#hdr)"/>
<ellipse cx="512" cy="96" rx="11" ry="5" fill="#f6f6f6" opacity="0.8"/>
<path d="M493,119 C485,129 486,147 501,154 L504,149 C493,143 492,131 497,121 Z" fill="#1464d8"/>
<g transform="rotate(-30 515 129)"><rect x="496" y="115" width="38" height="28.5" rx="12" fill="url(#elb)"/><line x1="518" y1="116" x2="518" y2="142" stroke="#d5d5d5" stroke-width="1"/></g>
<g transform="rotate(-30 506 133)"><ellipse cx="506" cy="133" rx="9.5" ry="13.5" fill="#fcfcfc" stroke="#cfcfcf" stroke-width="1"/><ellipse cx="508.5" cy="132" rx="7.5" ry="11" fill="none" stroke="#dedede" stroke-width="0.8"/></g>
<path d="M493,172 C485,182 486,200 501,207 L504,202 C493,196 492,184 497,174 Z" fill="#1464d8"/>
<g transform="rotate(-30 515 182)"><rect x="496" y="168" width="38" height="28.5" rx="12" fill="url(#elb)"/><line x1="518" y1="169" x2="518" y2="195" stroke="#d5d5d5" stroke-width="1"/></g>
<g transform="rotate(-30 506 186)"><ellipse cx="506" cy="186" rx="9.5" ry="13.5" fill="#fcfcfc" stroke="#cfcfcf" stroke-width="1"/><ellipse cx="508.5" cy="185" rx="7.5" ry="11" fill="none" stroke="#dedede" stroke-width="0.8"/></g>
<path d="M493,228.5 C485,238.5 486,256.5 501,263.5 L504,258.5 C493,252.5 492,240.5 497,230.5 Z" fill="#1464d8"/>
<g transform="rotate(-30 515 238.5)"><rect x="496" y="224.5" width="38" height="28.5" rx="12" fill="url(#elb)"/><line x1="518" y1="225.5" x2="518" y2="251.5" stroke="#d5d5d5" stroke-width="1"/></g>
<g transform="rotate(-30 506 242.5)"><ellipse cx="506" cy="242.5" rx="9.5" ry="13.5" fill="#fcfcfc" stroke="#cfcfcf" stroke-width="1"/><ellipse cx="508.5" cy="241.5" rx="7.5" ry="11" fill="none" stroke="#dedede" stroke-width="0.8"/></g>
<g transform="rotate(18 538 114)"><rect x="530" y="110.5" width="16" height="7" rx="3" fill="#dcc010"/><rect x="531" y="111.5" width="14" height="2.5" rx="1.2" fill="#f6e545"/><rect x="543" y="109.5" width="4" height="9" rx="1.5" fill="#e8cc20"/><line x1="533.0" y1="110.5" x2="533.0" y2="117.5" stroke="#a88c00" stroke-width="0.8"/><line x1="536.5" y1="110.5" x2="536.5" y2="117.5" stroke="#a88c00" stroke-width="0.8"/><line x1="540.0" y1="110.5" x2="540.0" y2="117.5" stroke="#a88c00" stroke-width="0.8"/></g>
<g transform="rotate(18 538 170)"><rect x="530" y="166.5" width="16" height="7" rx="3" fill="#dcc010"/><rect x="531" y="167.5" width="14" height="2.5" rx="1.2" fill="#f6e545"/><rect x="543" y="165.5" width="4" height="9" rx="1.5" fill="#e8cc20"/><line x1="533.0" y1="166.5" x2="533.0" y2="173.5" stroke="#a88c00" stroke-width="0.8"/><line x1="536.5" y1="166.5" x2="536.5" y2="173.5" stroke="#a88c00" stroke-width="0.8"/><line x1="540.0" y1="166.5" x2="540.0" y2="173.5" stroke="#a88c00" stroke-width="0.8"/></g>
<g transform="rotate(18 538 224.7)"><rect x="530" y="221.2" width="16" height="7" rx="3" fill="#dcc010"/><rect x="531" y="222.2" width="14" height="2.5" rx="1.2" fill="#f6e545"/><rect x="543" y="220.2" width="4" height="9" rx="1.5" fill="#e8cc20"/><line x1="533.0" y1="221.2" x2="533.0" y2="228.2" stroke="#a88c00" stroke-width="0.8"/><line x1="536.5" y1="221.2" x2="536.5" y2="228.2" stroke="#a88c00" stroke-width="0.8"/><line x1="540.0" y1="221.2" x2="540.0" y2="228.2" stroke="#a88c00" stroke-width="0.8"/></g>
<polygon points="500.0,261.0 568.0,228.5 573.5,228.5 573.5,263.0 538.0,276.0 500.0,290.0" fill="#1a88f0" />
<polygon points="500.0,261.0 568.0,228.5 573.5,228.5 573.5,236.0 512.0,264.0" fill="#2a9ef8" />
<line x1="500.0" y1="261.0" x2="568.0" y2="229.0" stroke="#0d5fc8" stroke-width="0.7" />
<text x="300" y="294" font-family="Liberation Sans, sans-serif" font-size="15" letter-spacing="4" fill="#ffffff" fill-opacity="0.45" stroke="#9ab0c8" stroke-opacity="0.35" stroke-width="0.6">乡市利环保设备有限公司</text>
<polygon points="200.0,291.0 211.0,291.0 211.0,454.0 200.0,454.0" fill="#148cfa" />
<line x1="202.5" y1="293.0" x2="202.5" y2="453.0" stroke="#46b4fd" stroke-width="2" />
<line x1="210.0" y1="293.0" x2="210.0" y2="453.0" stroke="#1272d8" stroke-width="1" />
<polygon points="189.0,457.0 203.0,451.5 231.0,454.0 231.0,456.5 207.0,462.5 189.0,459.5" fill="#0f7fe8" />
<polygon points="189.0,457.0 203.0,451.5 231.0,454.0 207.0,460.0" fill="#1f98fb" />
<polygon points="289.0,316.0 305.0,316.0 305.0,477.0 289.0,477.0" fill="#148cfa" />
<line x1="291.5" y1="318.0" x2="291.5" y2="476.0" stroke="#46b4fd" stroke-width="2" />
<line x1="304.0" y1="318.0" x2="304.0" y2="476.0" stroke="#1272d8" stroke-width="1" />
<polygon points="278.0,479.0 290.0,475.5 326.0,476.0 326.0,478.5 300.0,484.5 278.0,481.5" fill="#0f7fe8" />
<polygon points="278.0,479.0 290.0,475.5 326.0,476.0 300.0,482.0" fill="#1f98fb" />
<polygon points="385.0,354.0 402.0,354.0 402.0,498.0 385.0,498.0" fill="#148cfa" />
<line x1="387.5" y1="356.0" x2="387.5" y2="497.0" stroke="#46b4fd" stroke-width="2" />
<line x1="401.0" y1="356.0" x2="401.0" y2="497.0" stroke="#1272d8" stroke-width="1" />
<polygon points="373.0,501.0 384.0,496.0 415.0,497.0 415.0,499.5 394.0,505.5 373.0,503.5" fill="#0f7fe8" />
<polygon points="373.0,501.0 384.0,496.0 415.0,497.0 394.0,503.0" fill="#1f98fb" />
<polygon points="200.0,291.0 211.0,291.0 211.0,326.0 200.0,326.0" fill="#1c94fb" />
<line x1="200.5" y1="291.0" x2="200.5" y2="326.0" stroke="#4ab8ff" stroke-width="1" />
<line x1="206.1" y1="291.0" x2="206.1" y2="326.0" stroke="#1479e6" stroke-width="0.6" />
<circle cx="203.3" cy="296" r="0.7" fill="#1165d0"/>
<circle cx="208.8" cy="296" r="0.7" fill="#1165d0"/>
<circle cx="203.3" cy="304" r="0.7" fill="#1165d0"/>
<circle cx="208.8" cy="304" r="0.7" fill="#1165d0"/>
<circle cx="203.3" cy="320" r="0.7" fill="#1165d0"/>
<circle cx="208.8" cy="320" r="0.7" fill="#1165d0"/>
<polygon points="289.0,314.0 305.0,314.0 305.0,346.0 289.0,346.0" fill="#1c94fb" />
<line x1="289.5" y1="314.0" x2="289.5" y2="346.0" stroke="#4ab8ff" stroke-width="1" />
<line x1="297.8" y1="314.0" x2="297.8" y2="346.0" stroke="#1479e6" stroke-width="0.6" />
<circle cx="293.8" cy="319" r="0.7" fill="#1165d0"/>
<circle cx="301.8" cy="319" r="0.7" fill="#1165d0"/>
<circle cx="293.8" cy="327" r="0.7" fill="#1165d0"/>
<circle cx="301.8" cy="327" r="0.7" fill="#1165d0"/>
<circle cx="293.8" cy="340" r="0.7" fill="#1165d0"/>
<circle cx="301.8" cy="340" r="0.7" fill="#1165d0"/>
<polygon points="385.0,355.0 402.0,355.0 402.0,384.0 385.0,384.0" fill="#1c94fb" />
<line x1="385.5" y1="355.0" x2="385.5" y2="384.0" stroke="#4ab8ff" stroke-width="1" />
<line x1="394.4" y1="355.0" x2="394.4" y2="384.0" stroke="#1479e6" stroke-width="0.6" />
<circle cx="390.1" cy="360" r="0.7" fill="#1165d0"/>
<circle cx="398.6" cy="360" r="0.7" fill="#1165d0"/>
<circle cx="390.1" cy="368" r="0.7" fill="#1165d0"/>
<circle cx="398.6" cy="368" r="0.7" fill="#1165d0"/>
<circle cx="390.1" cy="378" r="0.7" fill="#1165d0"/>
<circle cx="398.6" cy="378" r="0.7" fill="#1165d0"/>
<polygon points="209.4,319.6 279.4,362.6 282.6,357.4 212.6,314.4" fill="#1a80ee" />
<polygon points="211.4,316.4 281.4,359.4 282.5,357.6 212.5,314.6" fill="#0b3a96" />
<polygon points="273.8,361.3 208.8,444.3 213.2,447.7 278.2,364.7" fill="#2aa6f4" />
<polygon points="275.0,362.2 210.0,445.2 212.0,446.8 277.0,363.8" fill="#5fd0fb" />
<polygon points="303.6,345.7 376.6,383.7 379.4,378.3 306.4,340.3" fill="#1a80ee" />
<polygon points="305.3,342.3 378.3,380.3 379.3,378.5 306.3,340.5" fill="#0b3a96" />
<polygon points="369.8,379.3 303.8,466.3 308.2,469.7 374.2,382.7" fill="#2aa6f4" />
<polygon points="371.0,380.3 305.0,467.3 307.0,468.7 373.0,381.7" fill="#5fd0fb" />
<line x1="160.0" y1="56.0" x2="352.0" y2="95.0" stroke="#939393" stroke-width="1.1" />
<line x1="154.0" y1="138.0" x2="228.0" y2="172.0" stroke="#939393" stroke-width="1.1" />
<line x1="172.0" y1="191.0" x2="225.0" y2="222.0" stroke="#939393" stroke-width="1.1" />
<line x1="182.0" y1="244.0" x2="335.0" y2="218.0" stroke="#939393" stroke-width="1.1" />
<line x1="163.0" y1="313.0" x2="272.0" y2="341.0" stroke="#939393" stroke-width="1.1" />
<line x1="183.0" y1="391.0" x2="268.0" y2="441.0" stroke="#939393" stroke-width="1.1" />
<line x1="598.0" y1="72.0" x2="443.0" y2="113.5" stroke="#939393" stroke-width="1.1" />
<line x1="597.0" y1="113.6" x2="517.0" y2="146.0" stroke="#939393" stroke-width="1.1" />
<line x1="592.0" y1="160.5" x2="542.0" y2="171.0" stroke="#939393" stroke-width="1.1" />
<line x1="600.0" y1="196.0" x2="542.0" y2="171.0" stroke="#939393" stroke-width="1.1" />
<line x1="601.0" y1="225.0" x2="522.0" y2="236.0" stroke="#939393" stroke-width="1.1" />
<line x1="601.0" y1="255.0" x2="505.0" y2="273.0" stroke="#939393" stroke-width="1.1" />
<line x1="596.0" y1="292.0" x2="558.0" y2="312.0" stroke="#939393" stroke-width="1.1" />
<line x1="597.0" y1="366.0" x2="434.0" y2="429.0" stroke="#939393" stroke-width="1.1" />
<line x1="601.0" y1="423.0" x2="447.0" y2="468.5" stroke="#939393" stroke-width="1.1" />
</svg>
<div class="t" style="left:99px;top:48.5px">进风口</div>
<div class="t" style="left:108px;top:125.5px">手轮</div>
<div class="t" style="left:93px;top:178.5px">滤筒盖板</div>
<div class="t" style="left:87px;top:236.5px">滤筒支撑架</div>
<div class="t" style="left:117px;top:301.3px">漏斗</div>
<div class="t" style="left:96px;top:371.3px">气顶装置</div>
<div class="t" style="left:600px;top:58.2px">扰流板</div>
<div class="t" style="left:606px;top:102.7px">气缸</div>
<div class="t" style="left:604px;top:148.8px">电磁脉冲阀</div>
<div class="t" style="left:604px;top:186.8px">90°螺旋喷嘴</div>
<div class="t" style="left:608px;top:217.5px">ABS文氏管</div>
<div class="t" style="left:612px;top:243.5px">PTFE覆膜滤筒</div>
<div class="t" style="left:607px;top:283.5px">排风口</div>
<div class="t" style="left:611px;top:357.3px">钢制收集箱</div>
<div class="t" style="left:609px;top:410.2px">万向脚轮</div>
<div class="t" style="left:609px;top:427.7px">(带刹车)</div>
</body></html>
